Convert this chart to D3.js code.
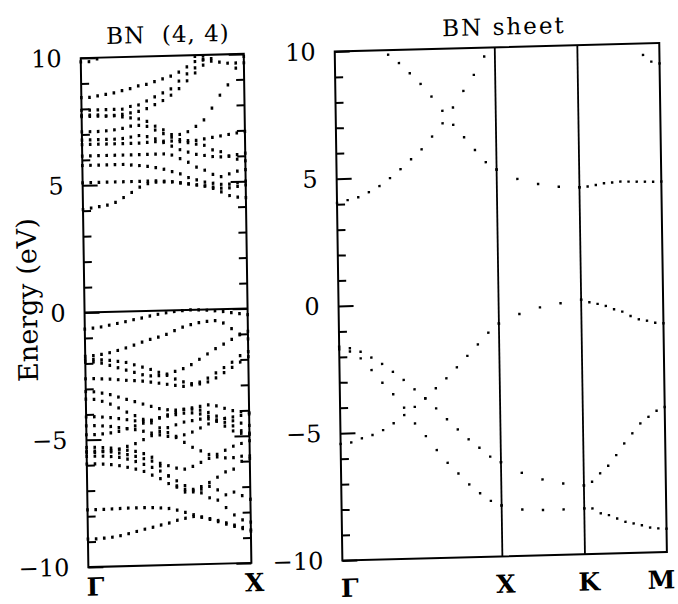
<!DOCTYPE html>
<html lang="en">
  <head>
    <meta charset="utf-8" />
    <title>BN (4,4) tube and BN sheet bands</title>
    <script src="https://cdn.jsdelivr.net/npm/d3@7/dist/d3.min.js"></script>
    <style>
      body { margin: 0; background: #fff; }
      svg { display: block; }
    </style>
  </head>
  <body>
    <script>
      //Width and height
      var w = 678;
      var h = 604;

      // energy axis ticks (eV)
      var majorTicks = [-10, -5, 0, 5, 10];
      var minorTicks = [-9, -8, -7, -6, -4, -3, -2, -1, 1, 2, 3, 4, 6, 7, 8, 9];

      // BN (4,4) tube: k points from Gamma (0) to X (1)
      var tubeK = [0, 0.05, 0.1, 0.15, 0.2, 0.25, 0.3, 0.35, 0.4, 0.45, 0.5,
        0.55, 0.6, 0.65, 0.7, 0.75, 0.8, 0.85, 0.9, 0.95, 1];
      var tubeLabels = ["Γ", "X"];
      var tubeLabelK = [0, 1];

      // tube conduction bands
      var tubeC1 = [4.05, 4.1, 4.15, 4.2, 4.3, 4.48, 4.67, 4.87, 5.0, 5.05, 5.05, 5.05, 5.0, 4.95, 4.9, 4.85, 4.75, 4.6, 4.45, 4.38, 4.35];
      var tubeC2 = [5.1, 5.1, 5.1, 5.1, 5.1, 5.1, 5.1, 5.1, 5.1, 5.1, 5.08, 5.05, 5.0, 4.95, 4.9, 4.85, 4.8, 4.75, 4.75, 4.8, 4.85];
      var tubeC3 = [5.78, 5.78, 5.78, 5.78, 5.78, 5.78, 5.75, 5.72, 5.68, 5.62, 5.55, 5.45, 5.35, 5.2, 5.1, 5.0, 4.95, 4.9, 4.9, 4.95, 5.0];
      var tubeC4 = [6.15, 6.15, 6.15, 6.15, 6.15, 6.15, 6.15, 6.15, 6.15, 6.15, 6.15, 6.1, 5.95, 5.8, 5.6, 5.47, 5.3, 5.2, 5.3, 5.4, 5.45];
      var tubeC5 = [6.6, 6.6, 6.6, 6.6, 6.6, 6.6, 6.6, 6.6, 6.62, 6.64, 6.65, 6.65, 6.62, 6.57, 6.5, 6.45, 6.26, 6.18, 6.0, 5.87, 5.8];
      var tubeC6 = [6.78, 6.78, 6.78, 6.78, 6.78, 6.8, 6.85, 6.9, 6.85, 6.75, 6.6, 6.45, 6.3, 6.2, 6.1, 6.05, 6.0, 5.98, 6.0, 6.05, 6.1];
      var tubeC7 = [7.1, 7.1, 7.1, 7.12, 7.15, 7.2, 7.28, 7.3, 7.25, 7.1, 6.95, 6.8, 6.7, 6.65, 6.65, 6.7, 6.75, 6.8, 6.85, 6.9, 6.95];
      var tubeC8 = [7.75, 7.75, 7.75, 7.7, 7.7, 7.65, 7.6, 7.55, 7.45, 7.25, 7.1, 6.9, 6.9, 7.0, 7.2, 7.45, 7.9, 8.4, 8.8, 9.45, 9.9];
      var tubeC9 = [7.7, 7.7, 7.7, 7.7, 7.72, 7.75, 7.8, 7.85, 7.95, 8.1, 8.25, 8.45, 8.7, 9.0, 9.3, 9.6, 9.85, null, null, null, null];
      var tubeC10 = [7.95, 7.95, 7.95, 7.95, 7.95, 7.95, 8.05, 8.1, 8.25, 8.4, 8.55, 8.7, 9.0, 9.27, 9.5, 9.8, null, null, null, null, null];
      var tubeC11 = [8.45, 8.45, 8.5, 8.55, 8.6, 8.68, 8.75, 8.85, 8.9, 9.0, 9.1, 9.2, 9.35, 9.55, 9.75, 9.95, null, null, null, null, null];
      var tubeC12 = [null, null, null, null, null, null, null, null, null, null, null, null, null, null, 9.95, 9.82, 9.75, 9.7, 9.65, 9.65, 9.65];
      var tubeC13 = [9.85, 9.85, 9.95, null, null, null, null, null, null, null, null, null, null, null, null, null, null, null, null, null, null];

      // tube valence bands
      var tubeV1 = [-0.65, -0.62, -0.58, -0.52, -0.46, -0.4, -0.33, -0.27, -0.2, -0.14, -0.09, -0.05, -0.02, 0.0, -0.01, -0.03, -0.06, -0.1, -0.15, -0.2, -0.25];
      var tubeV2 = [-1.72, -1.7, -1.66, -1.6, -1.52, -1.43, -1.33, -1.22, -1.12, -1.04, -0.94, -0.8, -0.67, -0.58, -0.51, -0.47, -0.45, -0.55, -0.78, -1.03, -1.2];
      var tubeV3 = [-1.95, -1.95, -2.0, -2.1, -2.2, -2.3, -2.4, -2.5, -2.55, -2.55, -2.5, -2.4, -2.3, -2.15, -1.95, -1.75, -1.55, -1.38, -1.2, -1.0, -0.9];
      var tubeV4 = [-1.85, -1.85, -1.87, -1.9, -1.95, -2.0, -2.1, -2.2, -2.3, -2.42, -2.55, -2.7, -2.82, -2.9, -2.92, -2.85, -2.7, -2.5, -2.3, -2.1, -1.9];
      var tubeV5 = [-2.6, -2.6, -2.62, -2.64, -2.67, -2.7, -2.72, -2.75, -2.8, -2.85, -2.9, -2.95, -3.0, -2.95, -2.85, -2.7, -2.5, -2.3, -2.1, -1.85, -1.7];
      var tubeV6 = [-3.1, -3.12, -3.18, -3.25, -3.35, -3.45, -3.55, -3.65, -3.75, -3.85, -3.9, -3.92, -3.9, -3.85, -3.8, -3.75, -3.8, -3.9, -4.0, -4.05, -4.1];
      var tubeV7 = [-3.4, -3.42, -3.5, -3.62, -3.78, -3.95, -4.1, -4.25, -4.4, -4.6, -4.8, -5.0, -5.2, -5.4, -5.55, -5.7, -5.8, -5.85, -5.85, -5.8, -5.8];
      var tubeV8 = [-4.1, -4.1, -4.12, -4.15, -4.2, -4.25, -4.3, -4.32, -4.3, -4.2, -4.1, -4.0, -3.9, -3.9, -3.95, -4.05, -4.2, -4.3, -4.4, -4.5, -4.6];
      var tubeV9 = [-4.45, -4.45, -4.47, -4.5, -4.55, -4.6, -4.65, -4.72, -4.8, -4.88, -4.95, -4.95, -4.9, -4.8, -4.65, -4.5, -4.4, -4.3, -4.25, -4.2, -4.15];
      var tubeV10 = [-4.8, -4.8, -4.78, -4.75, -4.7, -4.6, -4.5, -4.4, -4.3, -4.22, -4.15, -4.1, -4.05, -4.05, -4.1, -4.2, -4.4, -4.6, -4.8, -4.9, -4.95];
      var tubeV11 = [-5.3, -5.3, -5.32, -5.35, -5.4, -5.45, -5.5, -5.6, -5.75, -6.1, -6.5, -6.9, -7.15, -7.15, -6.95, -6.8, -6.6, -6.4, -6.3, -6.0, -5.9];
      var tubeV12 = [-5.5, -5.5, -5.48, -5.45, -5.4, -5.3, -5.2, -5.05, -4.9, -4.75, -4.6, -4.5, -4.4, -4.35, -4.3, -4.3, -4.35, -4.45, -4.6, -4.8, -4.9];
      var tubeV13 = [-5.65, -5.65, -5.66, -5.68, -5.72, -5.8, -5.9, -6.02, -6.15, -6.3, -6.5, -6.7, -6.9, -7.05, -7.2, -7.4, -7.5, -7.8, -8.1, -8.3, -8.4];
      var tubeV14 = [-5.95, -5.95, -5.97, -6.0, -6.05, -6.12, -6.2, -6.3, -6.45, -6.6, -6.8, -6.95, -7.05, -7.1, -7.05, -6.95, -7.1, -7.3, -7.2, -7.35, -7.5];
      var tubeV15 = [-5.45, -5.45, -5.46, -5.5, -5.55, -5.62, -5.7, -5.8, -5.9, -6.0, -6.1, -6.2, -6.25, -6.15, -6.0, -5.85, -5.7, -5.55, -5.4, -5.3, -5.2];
      var tubeV16 = [-7.75, -7.75, -7.75, -7.74, -7.73, -7.72, -7.72, -7.72, -7.73, -7.75, -7.78, -7.85, -7.95, -8.05, -8.15, -8.25, -8.35, -8.45, -8.55, -8.65, -8.7];
      var tubeV17 = [-8.9, -8.9, -8.88, -8.85, -8.8, -8.73, -8.65, -8.57, -8.5, -8.42, -8.35, -8.25, -8.18, -8.12, -8.15, -8.22, -8.3, -8.4, -8.5, -8.6, -8.75];

      // BN sheet: path Gamma - X - K - M
      var sheetLabels = ["Γ", "X", "K", "M"];
      var sheetLabelK = [0, 1, 1.516, 2.028];
      var sheetGXk = [0, 0.0667, 0.1333, 0.2, 0.2667, 0.3333, 0.4, 0.4667, 0.5333, 0.6, 0.6667, 0.7333, 0.8, 0.8667, 0.9333, 1];
      var sheetXKk = [1, 1.129, 1.258, 1.387, 1.516];
      var sheetKMk = [1.516, 1.5672, 1.6184, 1.6696, 1.7208, 1.772, 1.8232, 1.8744, 1.9256, 1.9768, 2.028];

      var sheetGX1 = [4.05, 4.15, 4.25, 4.44, 4.67, 4.97, 5.31, 5.69, 6.07, 6.56, 7.07, 7.68, 8.32, 8.94, 9.65, null];
      var sheetGX2 = [null, null, null, null, null, 9.82, 9.48, 9.07, 8.64, 8.13, 7.56, 7.0, 6.5, 5.99, 5.5, 5.2];
      var sheetGX3 = [-5.42, -5.37, -5.22, -5.1, -4.92, -4.66, -4.35, -4.04, -3.72, -3.33, -2.95, -2.53, -2.09, -1.65, -1.2, -0.85];
      var sheetGX4 = [-1.6, -1.67, -1.82, -2.06, -2.32, -2.64, -2.97, -3.35, -3.71, -4.12, -4.56, -4.97, -5.37, -5.71, -6.07, -6.3];
      var sheetGX5 = [-1.7, -1.8, -2.08, -2.55, -3.06, -3.52, -4.06, -4.69, -5.2, -5.76, -6.27, -6.7, -7.14, -7.5, -7.81, -8.0];

      var sheetXK1 = [5.2, 4.81, 4.59, 4.46, 4.42];
      var sheetXK2 = [-0.85, -0.5, -0.26, -0.12, 0.0];
      var sheetXK3 = [-6.3, -6.74, -7.02, -7.2, -7.3];
      var sheetXK4 = [-8.0, -8.18, -8.22, -8.22, -8.2];

      var sheetKM1 = [4.42, 4.44, 4.49, 4.55, 4.57, 4.6, 4.59, 4.58, 4.57, 4.56, 4.56];
      var sheetKM2 = [null, null, null, null, null, null, null, null, 9.55, 9.28, 9.2];
      var sheetKM3 = [0.0, -0.11, -0.18, -0.27, -0.41, -0.51, -0.69, -0.83, -0.89, -0.98, -1.01];
      var sheetKM4 = [-7.3, -7.16, -6.84, -6.55, -6.14, -5.69, -5.3, -4.92, -4.67, -4.44, -4.3];
      var sheetKM5 = [-8.2, -8.21, -8.41, -8.49, -8.63, -8.77, -8.84, -8.92, -9.02, -9.06, -9.08];

      var tubeBands = [tubeC1, tubeC2, tubeC3, tubeC4, tubeC5, tubeC6, tubeC7, tubeC8, tubeC9,
        tubeC10, tubeC11, tubeC12, tubeC13, tubeV1, tubeV2, tubeV3, tubeV4, tubeV5, tubeV6,
        tubeV7, tubeV8, tubeV9, tubeV10, tubeV11, tubeV12, tubeV13, tubeV14, tubeV15, tubeV16, tubeV17];

      var sheetSegments = [
        { k: sheetGXk, bands: [sheetGX1, sheetGX2, sheetGX3, sheetGX4, sheetGX5] },
        { k: sheetXKk, bands: [sheetXK1, sheetXK2, sheetXK3, sheetXK4] },
        { k: sheetKMk, bands: [sheetKM1, sheetKM2, sheetKM3, sheetKM4, sheetKM5] },
      ];

      //Scales
      var yScale = d3.scaleLinear().domain([-10, 10]).range([560.5, 51.5]);
      var tubeX = d3.scaleLinear().domain([0, 1]).range([84.5, 247.5]);
      var sheetX = d3.scaleLinear().domain([0, 2.028]).range([338.5, 663]);

      var serif = "'DejaVu Serif', 'Liberation Serif', serif";

      //Create SVG element
      var svg = d3
        .select("body")
        .append("svg")
        .attr("width", w)
        .attr("height", h);

      // the scanned figure is slightly skewed
      var fig = svg.append("g").attr("transform", "matrix(1,-0.026,0.015,1,-4.53,8.81)");

      function toPoints(band, ks) {
        return band
          .map(function (e, i) { return { k: ks[i], e: e }; })
          .filter(function (d) { return d.e !== null && d.e >= -10 && d.e <= 10; });
      }

      //Tube dots
      fig.append("g")
        .selectAll("g")
        .data(tubeBands)
        .join("g")
        .selectAll("rect")
        .data(function (b) { return toPoints(b, tubeK); })
        .join("rect")
        .attr("x", function (d) { return tubeX(d.k) - 1.3; })
        .attr("y", function (d) { return yScale(d.e) - 1.6; })
        .attr("width", 2.6)
        .attr("height", 3.2)
        .attr("fill", "#000");

      //Sheet dots
      sheetSegments.forEach(function (seg) {
        fig.append("g")
          .selectAll("g")
          .data(seg.bands)
          .join("g")
          .selectAll("rect")
          .data(function (b) { return toPoints(b, seg.k); })
          .join("rect")
          .attr("x", function (d) { return sheetX(d.k) - 1.2; })
          .attr("y", function (d) { return yScale(d.e) - 1.2; })
          .attr("width", 2.4)
          .attr("height", 2.4)
          .attr("fill", "#000");
      });

      //Axes
      function styleAxis(g) {
        g.select(".domain").remove();
        g.selectAll(".tick line").attr("stroke", "#000").attr("stroke-width", 2);
        g.attr("font-family", serif).attr("font-size", 24);
        g.selectAll(".tick text").attr("fill", "#000");
      }

      var panels = [
        { x0: 84.5, x1: 247.5, rightTicks: true },
        { x0: 338.5, x1: 663, rightTicks: false },
      ];

      panels.forEach(function (p) {
        fig.append("g")
          .attr("transform", "translate(" + p.x0 + ",0)")
          .call(d3.axisLeft(yScale).tickValues(majorTicks).tickSize(-15).tickPadding(19).tickFormat(d3.format("d")))
          .call(styleAxis);
        fig.append("g")
          .attr("transform", "translate(" + p.x0 + ",0)")
          .call(d3.axisLeft(yScale).tickValues(minorTicks).tickSize(-8).tickFormat(""))
          .call(styleAxis);
        if (p.rightTicks) {
          fig.append("g")
            .attr("transform", "translate(" + p.x1 + ",0)")
            .call(d3.axisRight(yScale).tickValues(majorTicks).tickSize(-15).tickFormat(""))
            .call(styleAxis);
          fig.append("g")
            .attr("transform", "translate(" + p.x1 + ",0)")
            .call(d3.axisRight(yScale).tickValues(minorTicks).tickSize(-8).tickFormat(""))
            .call(styleAxis);
        }
        fig.append("rect")
          .attr("x", p.x0)
          .attr("y", yScale(10))
          .attr("width", p.x1 - p.x0)
          .attr("height", yScale(-10) - yScale(10))
          .attr("fill", "none")
          .attr("stroke", "#000")
          .attr("stroke-width", 2);
      });

      // zero line in the tube panel
      fig.append("line")
        .attr("x1", tubeX(0)).attr("x2", tubeX(1))
        .attr("y1", yScale(0)).attr("y2", yScale(0))
        .attr("stroke", "#000").attr("stroke-width", 2);

      // symmetry lines in the sheet panel
      fig.selectAll("line.sym")
        .data(sheetLabelK.slice(1, 3))
        .join("line")
        .attr("class", "sym")
        .attr("x1", function (d) { return sheetX(d); })
        .attr("x2", function (d) { return sheetX(d); })
        .attr("y1", yScale(10)).attr("y2", yScale(-10))
        .attr("stroke", "#000").attr("stroke-width", 1.8);

      //k labels
      var labelOffset = { "Γ": [-2, "start"], "X": [3, "middle"], "K": [4, "middle"], "M": [8, "end"] };
      function kLabels(labels, ks, scale, base) {
        fig.append("g")
          .selectAll("text")
          .data(labels)
          .join("text")
          .text(function (d) { return d; })
          .attr("x", function (d, i) { return scale(ks[i]) + labelOffset[d][0]; })
          .attr("y", base)
          .attr("text-anchor", function (d) { return labelOffset[d][1]; })
          .attr("font-family", serif)
          .attr("font-weight", "bold")
          .attr("font-size", 25)
          .attr("fill", "#000");
      }
      kLabels(tubeLabels, tubeLabelK, tubeX, 589);
      kLabels(sheetLabels, sheetLabelK, sheetX, 597);

      //Titles
      fig.append("text")
        .text("BN  (4, 4)")
        .attr("x", 172)
        .attr("y", 38)
        .attr("text-anchor", "middle")
        .style("white-space", "pre")
        .attr("letter-spacing", 1)
        .attr("font-family", serif)
        .attr("font-size", 23)
        .attr("fill", "#000");

      fig.append("text")
        .text("BN sheet")
        .attr("x", 508)
        .attr("y", 39)
        .attr("text-anchor", "middle")
        .attr("letter-spacing", 2)
        .attr("font-family", serif)
        .attr("font-size", 23)
        .attr("fill", "#000");

      //Y label
      fig.append("text")
        .text("Energy (eV)")
        .attr("transform", "translate(37,292) rotate(-90)")
        .attr("text-anchor", "middle")
        .attr("font-family", serif)
        .attr("font-size", 27)
        .attr("fill", "#000");
    </script>
  </body>
</html>
